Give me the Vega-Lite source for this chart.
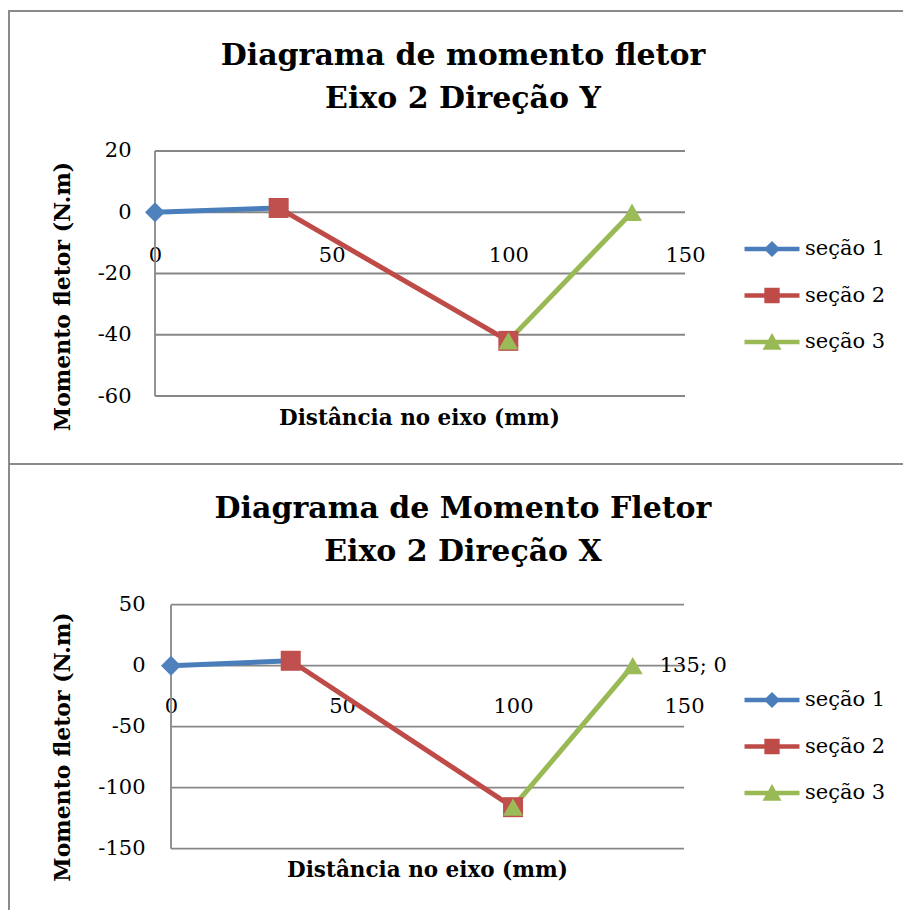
{
  "$schema": "https://vega.github.io/schema/vega-lite/v6.json",
  "padding": {"left": 8, "top": 10, "right": 0, "bottom": 0},
  "background": "white",
  "spacing": 0,
  "bounds": "flush",
  "vconcat": [
    {
      "width": 896,
      "height": 453,
      "title": {"text": ["Diagrama de momento fletor", "Eixo 2 Direção Y"], "offset": -133, "baseline": "bottom", "dx": 6},
      "resolve": {"scale": {"shape": "independent", "color": "independent", "size": "independent"}},
      "layer": [
        {
          "data": {"values": [{"y": 20}, {"y": 0}, {"y": -20}, {"y": -40}, {"y": -60}]},
          "mark": {"type": "rule", "color": "#878787", "strokeWidth": 1.8},
          "encoding": {
            "x": {"datum": 0, "type": "quantitative", "scale": {"domain": [-41.32, 212.26], "nice": false, "zero": false},
              "axis": {"orient": "bottom", "offset": -252, "values": [0, 50, 100, 150], "labelPadding": 43, "labelBaseline": "middle", "title": "Distância no eixo (mm)", "titleFontSize": 21.5, "titleX": 410, "titleY": 206, "titleAlign": "center", "titleBaseline": "middle"}},
            "x2": {"datum": 150},
            "y": {"field": "y", "type": "quantitative", "scale": {"domain": [-82.2, 65.71], "nice": false, "zero": false},
              "axis": {"orient": "left", "offset": -146, "values": [-60, -40, -20, 0, 20], "labelPadding": 24, "labelExpr": "datum.value < 0 ? '-' + abs(datum.value) : '' + datum.value", "title": "Momento fletor (N.m)", "titleFontSize": 22, "titleX": -93, "titleY": 285, "titleAngle": -90, "titleAlign": "center", "titleBaseline": "middle"}}
          }
        },
        {
          "data": {"values": [{"y": -60}]},
          "mark": {"type": "rule", "color": "#878787", "strokeWidth": 1.8},
          "encoding": {
            "x": {"datum": 0, "type": "quantitative", "scale": {"domain": [-41.32, 212.26], "nice": false, "zero": false},
              "axis": {"orient": "bottom", "offset": -252, "values": [0, 50, 100, 150], "labelPadding": 43, "labelBaseline": "middle", "title": "Distância no eixo (mm)", "titleFontSize": 21.5, "titleX": 410, "titleY": 206, "titleAlign": "center", "titleBaseline": "middle"}},
            "y": {"field": "y", "type": "quantitative", "scale": {"domain": [-82.2, 65.71], "nice": false, "zero": false},
              "axis": {"orient": "left", "offset": -146, "values": [-60, -40, -20, 0, 20], "labelPadding": 24, "labelExpr": "datum.value < 0 ? '-' + abs(datum.value) : '' + datum.value", "title": "Momento fletor (N.m)", "titleFontSize": 22, "titleX": -93, "titleY": 285, "titleAngle": -90, "titleAlign": "center", "titleBaseline": "middle"}},
            "y2": {"datum": 20}
          }
        },
        {
          "data": {"values": [
            {"s": "seção 1", "x": 0, "y": 0}, {"s": "seção 1", "x": 35, "y": 1.4},
            {"s": "seção 2", "x": 35, "y": 1.4}, {"s": "seção 2", "x": 100, "y": -42},
            {"s": "seção 3", "x": 100, "y": -42}, {"s": "seção 3", "x": 135, "y": 0}
          ]},
          "layer": [
            {
              "mark": {"type": "line", "strokeWidth": 5},
              "encoding": {
                "x": {"field": "x", "type": "quantitative", "scale": {"domain": [-41.32, 212.26], "nice": false, "zero": false},
                  "axis": {"orient": "bottom", "offset": -252, "values": [0, 50, 100, 150], "labelPadding": 43, "labelBaseline": "middle", "title": "Distância no eixo (mm)", "titleFontSize": 21.5, "titleX": 410, "titleY": 206, "titleAlign": "center", "titleBaseline": "middle"}},
                "y": {"field": "y", "type": "quantitative", "scale": {"domain": [-82.2, 65.71], "nice": false, "zero": false},
                  "axis": {"orient": "left", "offset": -146, "values": [-60, -40, -20, 0, 20], "labelPadding": 24, "labelExpr": "datum.value < 0 ? '-' + abs(datum.value) : '' + datum.value", "title": "Momento fletor (N.m)", "titleFontSize": 22, "titleX": -93, "titleY": 285, "titleAngle": -90, "titleAlign": "center", "titleBaseline": "middle"}},
                "color": {"field": "s", "type": "nominal", "scale": {"domain": ["seção 1", "seção 2", "seção 3"], "range": ["#4A7EBB", "#BE4B48", "#98B954"]}, "legend": null}
              }
            }
          ]
        },
        {
          "data": {"values": [
            {"s": "seção 1", "x": 0, "y": 0}, {"s": "seção 1", "x": 35, "y": 1.4},
            {"s": "seção 2", "x": 35, "y": 1.4}, {"s": "seção 2", "x": 100, "y": -42},
            {"s": "seção 3", "x": 100, "y": -42}, {"s": "seção 3", "x": 135, "y": 0}
          ]},
          "mark": {"type": "point", "filled": true, "opacity": 1, "strokeWidth": 0},
          "encoding": {
            "x": {"field": "x", "type": "quantitative", "scale": {"domain": [-41.32, 212.26], "nice": false, "zero": false},
              "axis": {"orient": "bottom", "offset": -252, "values": [0, 50, 100, 150], "labelPadding": 43, "labelBaseline": "middle", "title": "Distância no eixo (mm)", "titleFontSize": 21.5, "titleX": 410, "titleY": 206, "titleAlign": "center", "titleBaseline": "middle"}},
            "y": {"field": "y", "type": "quantitative", "scale": {"domain": [-82.2, 65.71], "nice": false, "zero": false},
              "axis": {"orient": "left", "offset": -146, "values": [-60, -40, -20, 0, 20], "labelPadding": 24, "labelExpr": "datum.value < 0 ? '-' + abs(datum.value) : '' + datum.value", "title": "Momento fletor (N.m)", "titleFontSize": 22, "titleX": -93, "titleY": 285, "titleAngle": -90, "titleAlign": "center", "titleBaseline": "middle"}},
            "color": {"field": "s", "type": "nominal", "scale": {"domain": ["seção 1", "seção 2", "seção 3"], "range": ["#4F81BD", "#C0504D", "#9BBB59"]}, "legend": null},
            "shape": {"field": "s", "type": "nominal", "scale": {"domain": ["seção 1", "seção 2", "seção 3"], "range": ["diamond", "square", "triangle-up"]}, "legend": null},
            "size": {"field": "s", "type": "nominal", "scale": {"domain": ["seção 1", "seção 2", "seção 3"], "range": [400, 400, 480]}, "legend": null}
          }
        },
        {
          "data": {"values": [
            {"s": "seção 1", "x": 0, "y": 0}, {"s": "seção 1", "x": 35, "y": 1.4},
            {"s": "seção 2", "x": 35, "y": 1.4}, {"s": "seção 2", "x": 100, "y": -42},
            {"s": "seção 3", "x": 100, "y": -42}, {"s": "seção 3", "x": 135, "y": 0}
          ]},
          "mark": {"type": "point", "filled": true, "opacity": 0, "strokeWidth": 0},
          "encoding": {
            "x": {"field": "x", "type": "quantitative", "scale": {"domain": [-41.32, 212.26], "nice": false, "zero": false},
              "axis": {"orient": "bottom", "offset": -252, "values": [0, 50, 100, 150], "labelPadding": 43, "labelBaseline": "middle", "title": "Distância no eixo (mm)", "titleFontSize": 21.5, "titleX": 410, "titleY": 206, "titleAlign": "center", "titleBaseline": "middle"}},
            "y": {"field": "y", "type": "quantitative", "scale": {"domain": [-82.2, 65.71], "nice": false, "zero": false},
              "axis": {"orient": "left", "offset": -146, "values": [-60, -40, -20, 0, 20], "labelPadding": 24, "labelExpr": "datum.value < 0 ? '-' + abs(datum.value) : '' + datum.value", "title": "Momento fletor (N.m)", "titleFontSize": 22, "titleX": -93, "titleY": 285, "titleAngle": -90, "titleAlign": "center", "titleBaseline": "middle"}},
            "color": {"field": "s", "type": "nominal", "scale": {"domain": ["seção 1", "seção 2", "seção 3"], "range": ["#4A7EBB", "#BE4B48", "#98B954"]},
              "legend": {"orient": "none", "legendX": 740.5, "legendY": 215.5, "title": null}},
            "shape": {"field": "s", "type": "nominal", "scale": {"domain": ["seção 1", "seção 2", "seção 3"], "range": [
              "M-1.222,-0.1H1.222V0.1H-1.222ZM0,-0.36L0.36,0L0,0.36L-0.36,0Z",
              "M-1.222,-0.1H1.222V0.1H-1.222ZM-0.34,-0.34H0.34V0.34H-0.34Z",
              "M-1.222,-0.1H1.222V0.1H-1.222ZM0,-0.4L0.42,0.34H-0.42Z"]},
              "legend": {"orient": "none", "legendX": 740.5, "legendY": 215.5, "title": null}}
          }
        }
      ]
    },
    {
      "width": 896,
      "height": 447,
      "title": {"text": ["Diagrama de Momento Fletor", "Eixo 2 Direção X"], "offset": -133, "baseline": "bottom", "dx": 6},
      "resolve": {"scale": {"shape": "independent", "color": "independent", "size": "independent"}},
      "layer": [
        {
          "data": {"values": [{"y": 50}, {"y": 0}, {"y": -50}, {"y": -100}, {"y": -150}]},
          "mark": {"type": "rule", "color": "#878787", "strokeWidth": 1.8},
          "encoding": {
            "x": {"datum": 0, "type": "quantitative", "scale": {"domain": [-47.37, 214.6], "nice": false, "zero": false},
              "axis": {"orient": "bottom", "offset": -245.3, "values": [0, 50, 100, 150], "labelPadding": 41, "labelBaseline": "middle", "title": "Distância no eixo (mm)", "titleFontSize": 21.5, "titleX": 418, "titleY": 205, "titleAlign": "center", "titleBaseline": "middle"}},
            "x2": {"datum": 150},
            "y": {"field": "y", "type": "quantitative", "scale": {"domain": [-201.1, 165.3], "nice": false, "zero": false},
              "axis": {"orient": "left", "offset": -162, "values": [-150, -100, -50, 0, 50], "labelPadding": 26, "labelExpr": "datum.value < 0 ? '-' + abs(datum.value) : '' + datum.value", "title": "Momento fletor (N.m)", "titleFontSize": 22, "titleX": -109, "titleY": 282.5, "titleAngle": -90, "titleAlign": "center", "titleBaseline": "middle"}}
          }
        },
        {
          "data": {"values": [{"y": -150}]},
          "mark": {"type": "rule", "color": "#878787", "strokeWidth": 1.8},
          "encoding": {
            "x": {"datum": 0, "type": "quantitative", "scale": {"domain": [-47.37, 214.6], "nice": false, "zero": false},
              "axis": {"orient": "bottom", "offset": -245.3, "values": [0, 50, 100, 150], "labelPadding": 41, "labelBaseline": "middle", "title": "Distância no eixo (mm)", "titleFontSize": 21.5, "titleX": 418, "titleY": 205, "titleAlign": "center", "titleBaseline": "middle"}},
            "y": {"field": "y", "type": "quantitative", "scale": {"domain": [-201.1, 165.3], "nice": false, "zero": false},
              "axis": {"orient": "left", "offset": -162, "values": [-150, -100, -50, 0, 50], "labelPadding": 26, "labelExpr": "datum.value < 0 ? '-' + abs(datum.value) : '' + datum.value", "title": "Momento fletor (N.m)", "titleFontSize": 22, "titleX": -109, "titleY": 282.5, "titleAngle": -90, "titleAlign": "center", "titleBaseline": "middle"}},
            "y2": {"datum": 50}
          }
        },
        {
          "data": {"values": [
            {"s": "seção 1", "x": 0, "y": 0}, {"s": "seção 1", "x": 35, "y": 4},
            {"s": "seção 2", "x": 35, "y": 4}, {"s": "seção 2", "x": 100, "y": -116},
            {"s": "seção 3", "x": 100, "y": -116}, {"s": "seção 3", "x": 135, "y": 0}
          ]},
          "mark": {"type": "line", "strokeWidth": 5},
          "encoding": {
            "x": {"field": "x", "type": "quantitative", "scale": {"domain": [-47.37, 214.6], "nice": false, "zero": false},
              "axis": {"orient": "bottom", "offset": -245.3, "values": [0, 50, 100, 150], "labelPadding": 41, "labelBaseline": "middle", "title": "Distância no eixo (mm)", "titleFontSize": 21.5, "titleX": 418, "titleY": 205, "titleAlign": "center", "titleBaseline": "middle"}},
            "y": {"field": "y", "type": "quantitative", "scale": {"domain": [-201.1, 165.3], "nice": false, "zero": false},
              "axis": {"orient": "left", "offset": -162, "values": [-150, -100, -50, 0, 50], "labelPadding": 26, "labelExpr": "datum.value < 0 ? '-' + abs(datum.value) : '' + datum.value", "title": "Momento fletor (N.m)", "titleFontSize": 22, "titleX": -109, "titleY": 282.5, "titleAngle": -90, "titleAlign": "center", "titleBaseline": "middle"}},
            "color": {"field": "s", "type": "nominal", "scale": {"domain": ["seção 1", "seção 2", "seção 3"], "range": ["#4A7EBB", "#BE4B48", "#98B954"]}, "legend": null}
          }
        },
        {
          "data": {"values": [
            {"s": "seção 1", "x": 0, "y": 0}, {"s": "seção 1", "x": 35, "y": 4},
            {"s": "seção 2", "x": 35, "y": 4}, {"s": "seção 2", "x": 100, "y": -116},
            {"s": "seção 3", "x": 100, "y": -116}, {"s": "seção 3", "x": 135, "y": 0}
          ]},
          "mark": {"type": "point", "filled": true, "opacity": 1, "strokeWidth": 0},
          "encoding": {
            "x": {"field": "x", "type": "quantitative", "scale": {"domain": [-47.37, 214.6], "nice": false, "zero": false},
              "axis": {"orient": "bottom", "offset": -245.3, "values": [0, 50, 100, 150], "labelPadding": 41, "labelBaseline": "middle", "title": "Distância no eixo (mm)", "titleFontSize": 21.5, "titleX": 418, "titleY": 205, "titleAlign": "center", "titleBaseline": "middle"}},
            "y": {"field": "y", "type": "quantitative", "scale": {"domain": [-201.1, 165.3], "nice": false, "zero": false},
              "axis": {"orient": "left", "offset": -162, "values": [-150, -100, -50, 0, 50], "labelPadding": 26, "labelExpr": "datum.value < 0 ? '-' + abs(datum.value) : '' + datum.value", "title": "Momento fletor (N.m)", "titleFontSize": 22, "titleX": -109, "titleY": 282.5, "titleAngle": -90, "titleAlign": "center", "titleBaseline": "middle"}},
            "color": {"field": "s", "type": "nominal", "scale": {"domain": ["seção 1", "seção 2", "seção 3"], "range": ["#4F81BD", "#C0504D", "#9BBB59"]}, "legend": null},
            "shape": {"field": "s", "type": "nominal", "scale": {"domain": ["seção 1", "seção 2", "seção 3"], "range": ["diamond", "square", "triangle-up"]}, "legend": null},
            "size": {"field": "s", "type": "nominal", "scale": {"domain": ["seção 1", "seção 2", "seção 3"], "range": [400, 400, 480]}, "legend": null}
          }
        },
        {
          "data": {"values": [
            {"s": "seção 1", "x": 0, "y": 0}, {"s": "seção 1", "x": 35, "y": 4},
            {"s": "seção 2", "x": 35, "y": 4}, {"s": "seção 2", "x": 100, "y": -116},
            {"s": "seção 3", "x": 100, "y": -116}, {"s": "seção 3", "x": 135, "y": 0}
          ]},
          "mark": {"type": "point", "filled": true, "opacity": 0, "strokeWidth": 0},
          "encoding": {
            "x": {"field": "x", "type": "quantitative", "scale": {"domain": [-47.37, 214.6], "nice": false, "zero": false},
              "axis": {"orient": "bottom", "offset": -245.3, "values": [0, 50, 100, 150], "labelPadding": 41, "labelBaseline": "middle", "title": "Distância no eixo (mm)", "titleFontSize": 21.5, "titleX": 418, "titleY": 205, "titleAlign": "center", "titleBaseline": "middle"}},
            "y": {"field": "y", "type": "quantitative", "scale": {"domain": [-201.1, 165.3], "nice": false, "zero": false},
              "axis": {"orient": "left", "offset": -162, "values": [-150, -100, -50, 0, 50], "labelPadding": 26, "labelExpr": "datum.value < 0 ? '-' + abs(datum.value) : '' + datum.value", "title": "Momento fletor (N.m)", "titleFontSize": 22, "titleX": -109, "titleY": 282.5, "titleAngle": -90, "titleAlign": "center", "titleBaseline": "middle"}},
            "color": {"field": "s", "type": "nominal", "scale": {"domain": ["seção 1", "seção 2", "seção 3"], "range": ["#4A7EBB", "#BE4B48", "#98B954"]},
              "legend": {"orient": "none", "legendX": 740.5, "legendY": 213.5, "title": null}},
            "shape": {"field": "s", "type": "nominal", "scale": {"domain": ["seção 1", "seção 2", "seção 3"], "range": [
              "M-1.222,-0.1H1.222V0.1H-1.222ZM0,-0.36L0.36,0L0,0.36L-0.36,0Z",
              "M-1.222,-0.1H1.222V0.1H-1.222ZM-0.34,-0.34H0.34V0.34H-0.34Z",
              "M-1.222,-0.1H1.222V0.1H-1.222ZM0,-0.4L0.42,0.34H-0.42Z"]},
              "legend": {"orient": "none", "legendX": 740.5, "legendY": 213.5, "title": null}}
          }
        },
        {
          "data": {"values": [{"x": 135, "y": 0, "label": "135; 0"}]},
          "mark": {"type": "text", "align": "left", "baseline": "middle", "dx": 27, "fontSize": 21, "font": "DejaVu Serif", "color": "#000"},
          "encoding": {
            "x": {"field": "x", "type": "quantitative", "scale": {"domain": [-47.37, 214.6], "nice": false, "zero": false},
              "axis": {"orient": "bottom", "offset": -245.3, "values": [0, 50, 100, 150], "labelPadding": 41, "labelBaseline": "middle", "title": "Distância no eixo (mm)", "titleFontSize": 21.5, "titleX": 418, "titleY": 205, "titleAlign": "center", "titleBaseline": "middle"}},
            "y": {"field": "y", "type": "quantitative", "scale": {"domain": [-201.1, 165.3], "nice": false, "zero": false},
              "axis": {"orient": "left", "offset": -162, "values": [-150, -100, -50, 0, 50], "labelPadding": 26, "labelExpr": "datum.value < 0 ? '-' + abs(datum.value) : '' + datum.value", "title": "Momento fletor (N.m)", "titleFontSize": 22, "titleX": -109, "titleY": 282.5, "titleAngle": -90, "titleAlign": "center", "titleBaseline": "middle"}},
            "text": {"field": "label", "type": "nominal"}
          }
        }
      ]
    }
  ],
  "config": {
    "font": "DejaVu Serif",
    "view": {"stroke": "#8b8b8b", "strokeWidth": 2},
    "axis": {"labelFont": "DejaVu Serif", "labelFontSize": 21, "labelColor": "#000", "titleFont": "DejaVu Serif", "titleFontWeight": "bold", "titleColor": "#000", "domain": false, "ticks": false, "tickSize": 0, "grid": false, "labelOverlap": false, "labelFlush": false, "labelBound": false},
    "legend": {"symbolSize": 2025, "symbolStrokeWidth": 0, "symbolOpacity": 1, "labelFont": "DejaVu Serif", "labelFontSize": 21, "labelColor": "#000", "labelOffset": 10.5, "rowPadding": 13.5, "padding": 0, "labelLimit": 300},
    "title": {"font": "DejaVu Serif", "fontSize": 30, "fontWeight": "bold", "color": "#000", "lineHeight": 43, "anchor": "middle", "frame": "group"}
  }
}
